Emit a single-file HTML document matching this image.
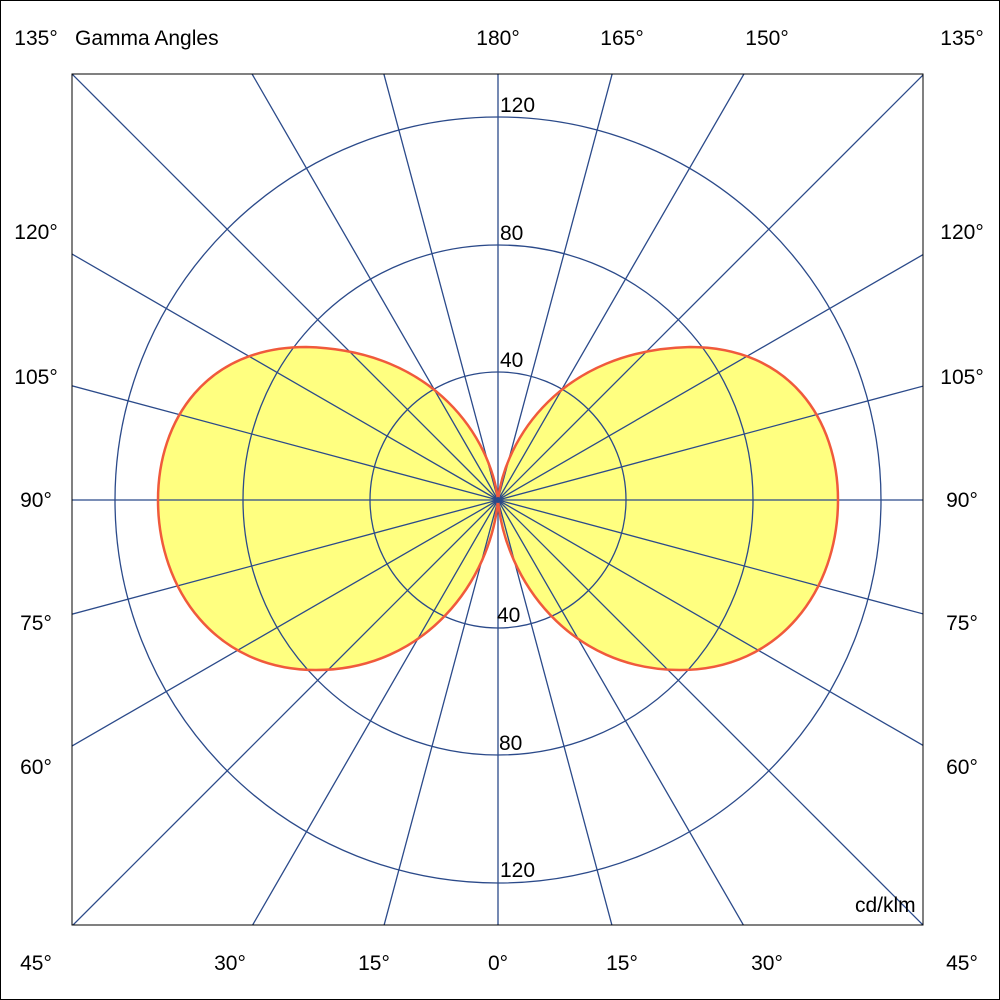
<!DOCTYPE html>
<html><head><style>
html,body{margin:0;padding:0;background:#fff;width:1000px;height:1000px;overflow:hidden}
svg{display:block;position:absolute;left:0;top:0}
text{font-family:"Liberation Sans",Arial,sans-serif;font-size:21px;fill:#000}
</style></head><body>
<svg width="1000" height="1000" viewBox="0 0 1000 1000">
<rect x="0.5" y="0.5" width="999" height="999" fill="#fff" stroke="#000" stroke-width="1"/>
<defs><clipPath id="c"><rect x="72" y="74" width="851" height="851"/></clipPath></defs>
<g clip-path="url(#c)">
<path d="M498,500 C505,440 560,350 690,347 C790,347 838,420 838,500 C838,590 780,670 680,670 C570,670 505,580 498,500 Z" fill="#ffff80"/>
<path d="M498,500 C491,440 436,350 306,347 C206,347 158,420 158,500 C158,590 216,670 316,670 C426,670 491,580 498,500 Z" fill="#ffff80"/>
<g stroke="#2b4a8a" stroke-width="1.3" fill="none">
<circle cx="498" cy="500" r="128"/>
<circle cx="498" cy="500" r="255"/>
<circle cx="498" cy="500" r="383"/>
<g transform="translate(498,500)">
<line x1="0" y1="0" x2="0" y2="800" transform="rotate(0)"/>
<line x1="0" y1="0" x2="0" y2="800" transform="rotate(15)"/>
<line x1="0" y1="0" x2="0" y2="800" transform="rotate(30)"/>
<line x1="0" y1="0" x2="0" y2="800" transform="rotate(45)"/>
<line x1="0" y1="0" x2="0" y2="800" transform="rotate(60)"/>
<line x1="0" y1="0" x2="0" y2="800" transform="rotate(75)"/>
<line x1="0" y1="0" x2="0" y2="800" transform="rotate(90)"/>
<line x1="0" y1="0" x2="0" y2="800" transform="rotate(105)"/>
<line x1="0" y1="0" x2="0" y2="800" transform="rotate(120)"/>
<line x1="0" y1="0" x2="0" y2="800" transform="rotate(135)"/>
<line x1="0" y1="0" x2="0" y2="800" transform="rotate(150)"/>
<line x1="0" y1="0" x2="0" y2="800" transform="rotate(165)"/>
<line x1="0" y1="0" x2="0" y2="800" transform="rotate(180)"/>
<line x1="0" y1="0" x2="0" y2="800" transform="rotate(195)"/>
<line x1="0" y1="0" x2="0" y2="800" transform="rotate(210)"/>
<line x1="0" y1="0" x2="0" y2="800" transform="rotate(225)"/>
<line x1="0" y1="0" x2="0" y2="800" transform="rotate(240)"/>
<line x1="0" y1="0" x2="0" y2="800" transform="rotate(255)"/>
<line x1="0" y1="0" x2="0" y2="800" transform="rotate(270)"/>
<line x1="0" y1="0" x2="0" y2="800" transform="rotate(285)"/>
<line x1="0" y1="0" x2="0" y2="800" transform="rotate(300)"/>
<line x1="0" y1="0" x2="0" y2="800" transform="rotate(315)"/>
<line x1="0" y1="0" x2="0" y2="800" transform="rotate(330)"/>
<line x1="0" y1="0" x2="0" y2="800" transform="rotate(345)"/>
</g>
</g>
<path d="M498,500 C505,440 560,350 690,347 C790,347 838,420 838,500 C838,590 780,670 680,670 C570,670 505,580 498,500 Z" fill="none" stroke="#f05a3c" stroke-width="2.5"/>
<path d="M498,500 C491,440 436,350 306,347 C206,347 158,420 158,500 C158,590 216,670 316,670 C426,670 491,580 498,500 Z" fill="none" stroke="#f05a3c" stroke-width="2.5"/>
<circle cx="498" cy="500" r="3" fill="#2b4a8a"/>
</g>
<rect x="72" y="74" width="851" height="851" fill="none" stroke="#000" stroke-width="1"/>
<g>
<text x="500" y="112">120</text>
<text x="500" y="240">80</text>
<text x="500" y="367">40</text>
<text x="497" y="622">40</text>
<text x="499" y="750">80</text>
<text x="500" y="877">120</text>
<text x="855" y="912">cd/klm</text>
</g>
<g text-anchor="middle">
<text x="36" y="45">135°</text>
<text x="498" y="45">180°</text>
<text x="622" y="45">165°</text>
<text x="767" y="45">150°</text>
<text x="962" y="45">135°</text>
<text x="36" y="970">45°</text>
<text x="230" y="970">30°</text>
<text x="374" y="970">15°</text>
<text x="498" y="970">0°</text>
<text x="622" y="970">15°</text>
<text x="767" y="970">30°</text>
<text x="962" y="970">45°</text>
<text x="36" y="239">120°</text>
<text x="36" y="384">105°</text>
<text x="36" y="507">90°</text>
<text x="36" y="630">75°</text>
<text x="36" y="774">60°</text>
<text x="962" y="239">120°</text>
<text x="962" y="384">105°</text>
<text x="962" y="507">90°</text>
<text x="962" y="630">75°</text>
<text x="962" y="774">60°</text>
</g>
<text x="75" y="45">Gamma Angles</text>
</svg>
</body></html>
